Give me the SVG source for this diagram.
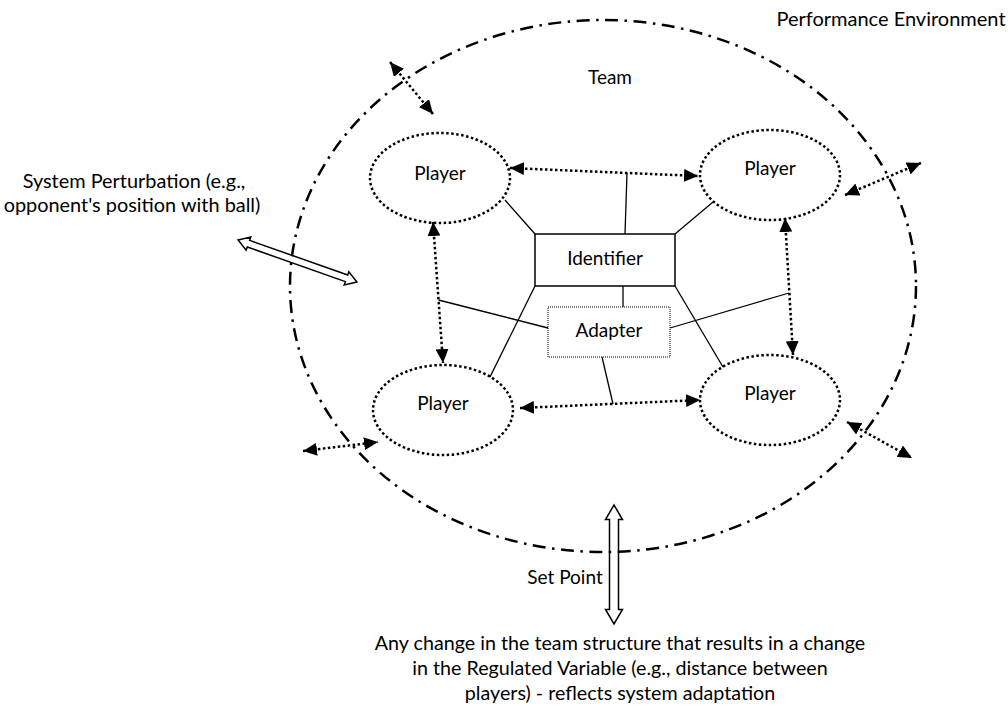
<svg xmlns="http://www.w3.org/2000/svg" width="1008" height="711" viewBox="0 0 1008 711">
<style>
.t{font-family:"Lato","Liberation Sans",sans-serif;fill:#000;text-anchor:middle}
.p{fill:none;stroke:#000;stroke-width:2.5;stroke-dasharray:2.5 2.5}
.dl{fill:none;stroke:#000;stroke-width:2.5;stroke-dasharray:2.5 2.5;marker-start:url(#ah);marker-end:url(#ah)}
.sl{fill:none;stroke:#000;stroke-width:1.3}
.ha{fill:none;stroke:#000;stroke-width:1.5;stroke-linejoin:miter}
</style>
<defs>
<marker id="ah" viewBox="0 0 14 13" refX="14" refY="6.5" markerWidth="14" markerHeight="13" markerUnits="userSpaceOnUse" orient="auto-start-reverse">
<path d="M0,0 L14,6.5 L0,13 z" fill="#000"/>
</marker>
</defs>
<rect width="1008" height="711" fill="#fff"/>

<g id="team-boundary">
<ellipse cx="603" cy="286" rx="313" ry="266" fill="none" stroke="#000" stroke-width="2.5" stroke-dasharray="13 6.5 2.5 6.5"/>
</g>

<g id="labels">
<text class="t" x="891" y="26" font-size="20">Performance Environment</text>
<text class="t" x="610" y="84" font-size="19">Team</text>
<text class="t" font-size="19.9"><tspan x="134" y="188">System Perturbation (e.g.,</tspan><tspan x="132" y="212">opponent's position with ball)</tspan></text>
<text class="t" x="565" y="584" font-size="19">Set Point</text>
<text class="t" font-size="19.7"><tspan x="620" y="650">Any change in the team structure that results in a change</tspan><tspan x="620" y="675">in the Regulated Variable (e.g., distance between</tspan><tspan x="620" y="700">players) - reflects system adaptation</tspan></text>
</g>

<g id="player-tl"><ellipse class="p" cx="440" cy="178" rx="70" ry="45"/><text class="t" x="440" y="180" font-size="19">Player</text></g>
<g id="player-tr"><ellipse class="p" cx="770" cy="175" rx="70" ry="45"/><text class="t" x="770" y="175" font-size="19">Player</text></g>
<g id="player-bl"><ellipse class="p" cx="443" cy="410" rx="70" ry="45"/><text class="t" x="443" y="410" font-size="19">Player</text></g>
<g id="player-br"><ellipse class="p" cx="770" cy="400" rx="70" ry="45"/><text class="t" x="770" y="400" font-size="19">Player</text></g>

<g id="identifier"><rect x="535" y="234" width="140" height="52" fill="none" stroke="#000" stroke-width="1.5"/><text class="t" x="605" y="265" font-size="19">Identifier</text></g>
<g id="adapter"><rect x="548" y="307" width="122" height="50" fill="none" stroke="#000" stroke-width="1" stroke-dasharray="1 1"/><text class="t" x="609" y="337" font-size="19">Adapter</text></g>

<g id="connectors">
<line class="sl" x1="625" y1="234" x2="627" y2="173"/>
<line class="sl" x1="535" y1="234" x2="505" y2="200"/>
<line class="sl" x1="675" y1="234" x2="713" y2="202"/>
<line class="sl" x1="535" y1="286" x2="490" y2="377"/>
<line class="sl" x1="675" y1="286" x2="723" y2="367"/>
<line class="sl" x1="623" y1="286" x2="623" y2="307"/>
<line class="sl" x1="548" y1="328" x2="438.5" y2="300"/>
<line class="sl" x1="670" y1="328" x2="789" y2="293"/>
<line class="sl" x1="602" y1="357" x2="613" y2="404"/>

<line class="dl" x1="510" y1="168" x2="698" y2="176"/>
<line class="dl" x1="520" y1="408" x2="700" y2="400"/>
<line class="dl" x1="433" y1="222" x2="443" y2="363"/>
<line class="dl" x1="785" y1="218" x2="793" y2="355"/>
<line class="dl" x1="390" y1="62" x2="433" y2="114"/>
<line class="dl" x1="845" y1="195" x2="921" y2="163"/>
<line class="dl" x1="847" y1="422" x2="912" y2="458"/>
<line class="dl" x1="303" y1="451" x2="378" y2="442"/>

<path class="ha" transform="translate(297.5,261) rotate(19.44)" d="M-63,0 L-52,-7 L-52,-3.5 L52,-3.5 L52,-7 L63,0 L52,7 L52,3.5 L-52,3.5 L-52,7 Z"/>
<path class="ha" transform="translate(614,564.5) rotate(90)" d="M-59.5,0 L-45,-8.5 L-45,-4.5 L45,-4.5 L45,-8.5 L59.5,0 L45,8.5 L45,4.5 L-45,4.5 L-45,8.5 Z"/>
</g>
</svg>
